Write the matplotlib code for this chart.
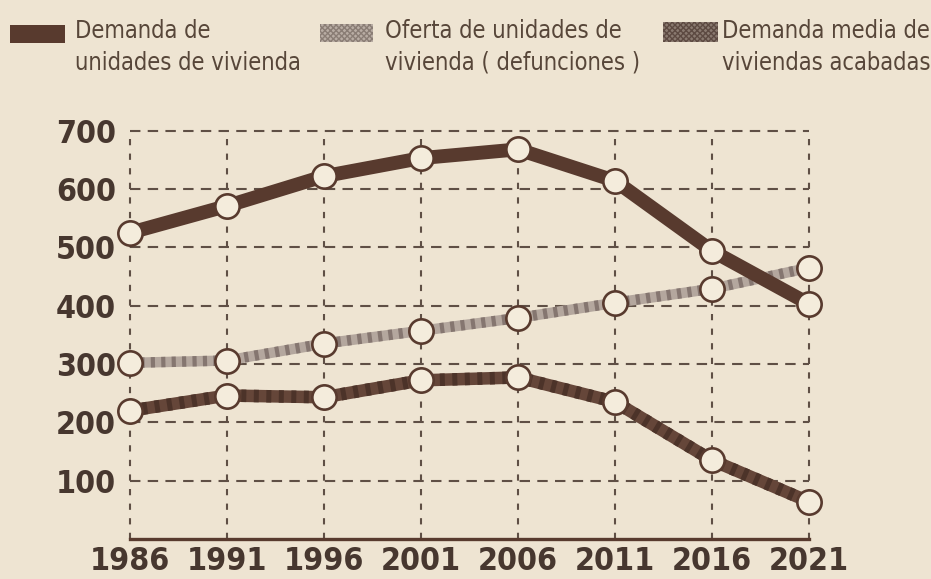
import matplotlib
matplotlib.use("Agg")
import matplotlib.pyplot as plt
from matplotlib.patches import Rectangle

# datos
anios = [1986, 1991, 1996, 2001, 2006, 2011, 2016, 2021]
demanda_unidades = [525, 571, 622, 653, 668, 614, 494, 403]
oferta_unidades = [302, 306, 335, 357, 379, 405, 429, 465]
demanda_media = [220, 246, 243, 272, 277, 235, 135, 64]
yticks = [100, 200, 300, 400, 500, 600, 700]

etiquetas = ["Demanda de\nunidades de vivienda",
             "Oferta de unidades de\nvivienda ( defunciones )",
             "Demanda media de\nviviendas acabadas"]

fondo = "#eee4d2"
marron = "#583a2e"
texto = "#574639"
plt.rcParams["hatch.linewidth"] = 1.0

fig = plt.figure(figsize=(9.31, 5.79), dpi=100, facecolor=fondo)
ax = fig.add_axes([130 / 931, 40 / 579, 679 / 931, 408.3 / 579])
ax.set_facecolor(fondo)
ax.set_xlim(1986, 2021)
ax.set_ylim(0, 700)

## cuadricula punteada
for y in yticks:
    ax.plot([1986, 2021], [y, y], color="#5f4f45", lw=1.5,
            dashes=(5, 3.5), zorder=1, clip_on=False)
for x in anios:
    ax.plot([x, x], [0, 700], color="#5f4f45", lw=1.5,
            dashes=(3, 4), zorder=1, clip_on=False)

for s in ["left", "right", "top"]:
    ax.spines[s].set_visible(False)
ax.spines["bottom"].set_color(marron)
ax.spines["bottom"].set_linewidth(2.4)

mk = dict(marker="o", ms=17.5, mfc="#f4ecdc", mec=marron, mew=1.9, clip_on=False)

# oferta (trama clara)
ax.plot(anios, oferta_unidades, color="#b4a79e", lw=7.5, zorder=3)
ax.plot(anios, oferta_unidades, color="#857670", lw=7.5, dashes=(0.4, 0.6), zorder=3)
ax.plot(anios, oferta_unidades, lw=0, zorder=5, **mk)

# demanda media (trama oscura)
ax.plot(anios, demanda_media, color="#654639", lw=9, zorder=3)
ax.plot(anios, demanda_media, color="#4c3329", lw=9, dashes=(0.4, 0.6), zorder=3)
ax.plot(anios, demanda_media, lw=0, zorder=5, **mk)

# demanda unidades (solido)
ax.plot(anios, demanda_unidades, color=marron, lw=10, zorder=4)
ax.plot(anios, demanda_unidades, lw=0, zorder=5, **mk)

ax.set_xticks(anios)
ax.set_xticklabels([str(a) for a in anios])
ax.set_yticks(yticks)
ax.set_yticklabels([str(v) for v in yticks])
ax.tick_params(length=0, colors="#47372f")
ax.tick_params(axis="y", pad=10)
ax.tick_params(axis="x", pad=5)
for lab in ax.get_xticklabels() + ax.get_yticklabels():
    lab.set_family("DejaVu Sans")
    lab.set_fontstretch("condensed")
    lab.set_fontweight("bold")
    lab.set_fontsize(23)

## leyenda hecha a mano
cajas = [(10, 25, 55, 18, marron, None, "#6b5a50"),
         (320, 24, 53, 18, "#b9ada4", "xxxxxx", "#8a7d75"),
         (663, 22, 55, 20, "#8a7a70", "xxxxxx", "#5d4a42")]
textos_x = [75, 385, 722]
for (x0, y0, w, h, c, hatch, ec), tx, lab in zip(cajas, textos_x, etiquetas):
    r = Rectangle((x0 / 931, 1 - (y0 + h) / 579), w / 931, h / 579,
                  transform=fig.transFigure, facecolor=c, hatch=hatch,
                  edgecolor=ec, lw=0)
    fig.patches.append(r)
    fig.text(tx / 931, 1 - 19 / 579, lab, ha="left", va="top", fontsize=17,
             family="DejaVu Sans", fontstretch="condensed", color=texto,
             linespacing=1.4)

fig.savefig("out.png", dpi=100, facecolor=fondo)
